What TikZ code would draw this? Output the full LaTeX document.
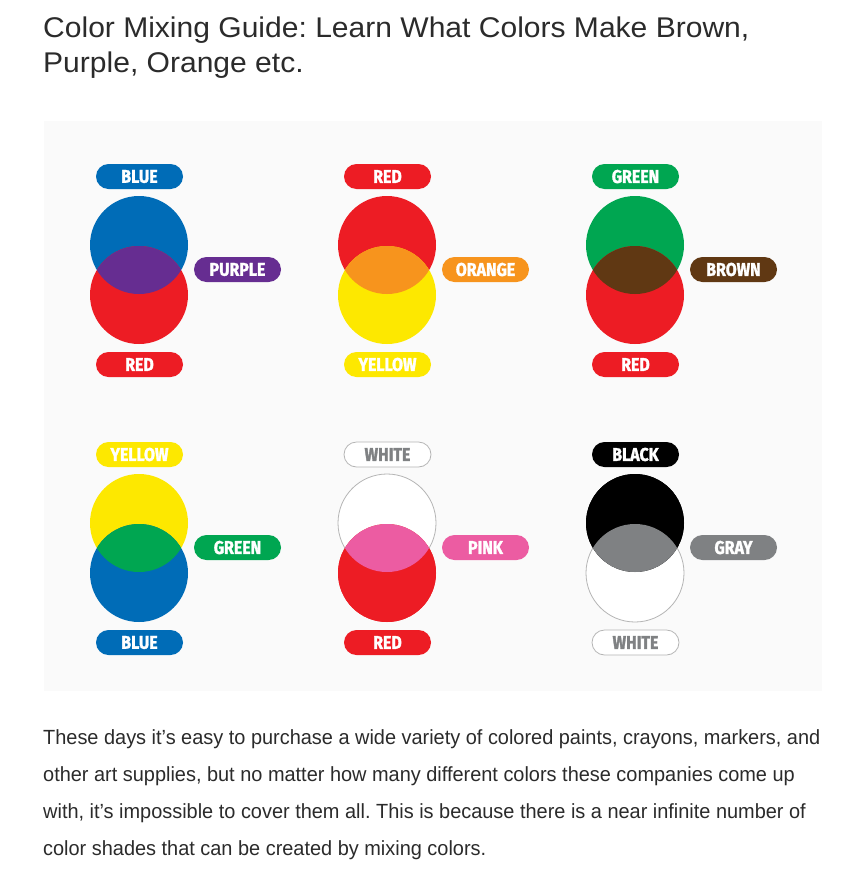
\documentclass[tikz,border=0pt]{standalone}
\usepackage{fontspec}
\setmainfont{Liberation Sans}
\newfontfamily\headfont[FakeStretch=1.054]{Liberation Sans}
\newfontfamily\bodyfont[FakeStretch=0.972]{Liberation Sans}
\newfontfamily\pillfont[FakeStretch=0.86, BoldFeatures={FakeBold=1.6}]{Fira Sans}
\frenchspacing

\definecolor{mblue}{HTML}{006CB7}
\definecolor{mred}{HTML}{ED1C24}
\definecolor{mpurple}{HTML}{662D91}
\definecolor{myellow}{HTML}{FDE800}
\definecolor{morange}{HTML}{F7941D}
\definecolor{mgreen}{HTML}{00A651}
\definecolor{mbrown}{HTML}{603813}
\definecolor{mpink}{HTML}{EC5CA2}
\definecolor{mgray}{HTML}{7F8183}
\definecolor{mblack}{HTML}{000000}
\definecolor{mwhite}{HTML}{FFFFFF}
\definecolor{mline}{HTML}{B5B5B5}
\definecolor{panelbg}{HTML}{FAFAFA}
\definecolor{inktext}{HTML}{2B2B2B}

\tikzset{
    pill/.style={rounded corners=12.5pt, minimum width=87pt, minimum height=25pt,
        inner sep=0pt, text=white, font=\pillfont\bfseries\fontsize{18.5}{18.5}\selectfont},
    disc/.style={circle, minimum size=98pt, inner sep=0pt},
    prose/.style={anchor=base west, inner sep=0pt, text=inktext},
    % Paint discs and their tags; white ones get a grey rim.
    paint/.style={disc, fill=m#1},
    tag/.style={pill, fill=m#1},
    rim/.style={draw=mline, line width=.8pt},
}

\begin{document}
\begin{tikzpicture}[
        x=1pt,
        y=-1pt,
    ]
    \useasboundingbox (0,0) rectangle (850,889);
    \fill[white] (0,0) rectangle (850,889);

    % Heading.
    \node[prose, font=\headfont\fontsize{28.5}{28.5}\selectfont] (head1) at (43,37.7)
        {Color Mixing Guide: Learn What Colors Make Brown,};
    \node[prose, font=\headfont\fontsize{28.5}{28.5}\selectfont] (head2) at (43,72.7)
        {Purple, Orange etc.};

    % Panel.
    \fill[panelbg] (44,121) rectangle (822,691);

    % Each pair: column x, row shift, top paint, bottom paint, mix.
    \foreach \n/\cx/\cy/\ca/\cb/\cm/\la/\lb/\lm in {
        1/139/0/blue/red/purple/BLUE/RED/PURPLE,
        2/387/0/red/yellow/orange/RED/YELLOW/ORANGE,
        3/635/0/green/red/brown/GREEN/RED/BROWN,
        4/139/278/yellow/blue/green/YELLOW/BLUE/GREEN,
        5/387/278/white/red/pink/WHITE/RED/PINK,
        6/635/278/black/white/gray/BLACK/WHITE/GRAY}
    {
        \node[paint=\ca] (top-\n) at (\cx,245+\cy) {};
        \node[paint=\cb] (bot-\n) at (\cx,295+\cy) {};
        \begin{scope}
            \clip (top-\n.center) circle (49pt);
            \fill[m\cm] (bot-\n.center) circle (49pt);
        \end{scope}

        \node[tag=\ca] (tagtop-\n) at (\cx+.5,176.5+\cy) {\la};
        \node[tag=\cb] (tagbot-\n) at (\cx+.5,364.5+\cy) {\lb};
        \node[tag=\cm] (tagmix-\n) at (\cx+98.5,269.5+\cy) {\lm};
    }

    % White paints: redraw with a rim.
    \node[paint=white, rim] (top-5) at (387,523) {};
    \fill[mred] (387,573) circle (49pt);
    \begin{scope}
        \clip (top-5.center) circle (49pt);
        \fill[mpink] (387,573) circle (49pt);
    \end{scope}
    \node[tag=white, rim, text=mgray] at (387.5,454.5) {WHITE};
    \node[paint=white, rim] (bot-6) at (635,573) {};
    \fill[mblack] (635,523) circle (49pt);
    \begin{scope}
        \clip (635,523) circle (49pt);
        \fill[mgray] (bot-6.center) circle (49pt);
    \end{scope}
    \node[tag=white, rim, text=mgray] at (635.5,642.5) {WHITE};

    % Body text.
    \foreach \i/\by/\line in {
        1/744/{These days it’s easy to purchase a wide variety of colored paints, crayons, markers, and},
        2/781/{other art supplies, but no matter how many different colors these companies come up},
        3/818/{with, it’s impossible to cover them all. This is because there is a near infinite number of},
        4/855/{color shades that can be created by mixing colors.}}
    {
        \node[prose, font=\bodyfont\fontsize{20.5}{20.5}\selectfont] (body\i) at (43,\by) {\line};
    }
\end{tikzpicture}
\end{document}
